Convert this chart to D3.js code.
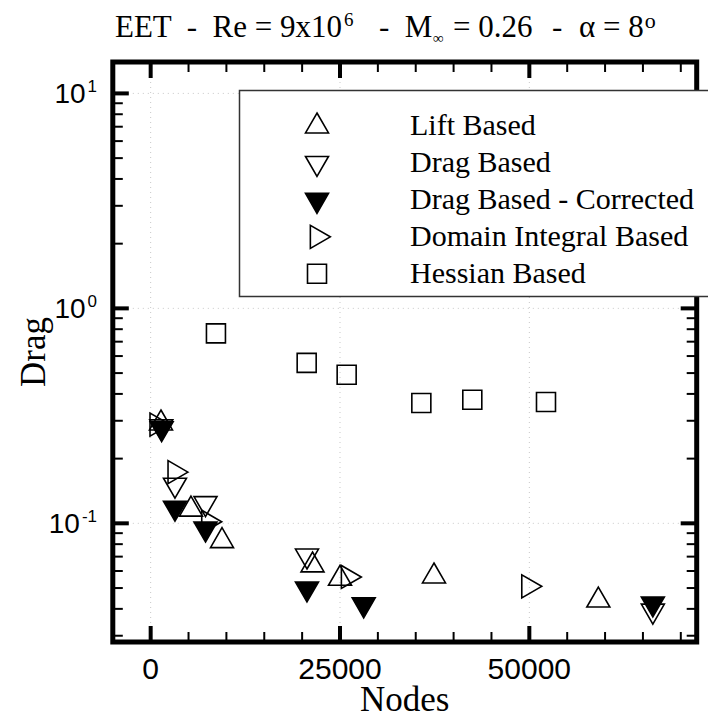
<!DOCTYPE html>
<html>
<head>
<meta charset="utf-8">
<script src="https://cdn.jsdelivr.net/npm/d3@7"></script>
<style>
  html, body { margin: 0; padding: 0; background: #fff; }
  svg { display: block; }
  text { white-space: pre; }
</style>
</head>
<body>
<script>
// Drag coefficient convergence versus mesh size for several adaptation indicators.
const seriesNames = ["Lift Based", "Drag Based", "Drag Based - Corrected", "Domain Integral Based", "Hessian Based"];

const liftNodes = [1360, 5320, 9420, 21370, 25000, 37410, 59110];
const liftDrag  = [0.292, 0.116, 0.0828, 0.0638, 0.0553, 0.0567, 0.0438];

const dragNodes = [1400, 3210, 7240, 20640, 66310];
const dragDrag  = [0.282, 0.151, 0.124, 0.0707, 0.0392];

const corrNodes = [1450, 3210, 7240, 20640, 28130, 66310];
const corrDrag  = [0.2765, 0.118, 0.0944, 0.0497, 0.0419, 0.0423];

const domainNodes = [790, 3170, 7620, 26060, 49880];
const domainDrag  = [0.288, 0.173, 0.1017, 0.0563, 0.0509];

const hessianNodes = [8620, 20600, 25880, 35740, 42470, 52200];
const hessianDrag  = [0.765, 0.558, 0.491, 0.363, 0.376, 0.367];

const xMajorTicks = [0, 25000, 50000];
const xTickLabels = ["0", "25000", "50000"];
const yDecades = [1, 0, -1];

const W = 708, H = 719;
const frame = { left: 112.8, right: 696.7, top: 62, bottom: 642 };
const serif = "'Liberation Serif', 'Times New Roman', serif";
const sans = "'Liberation Sans', Arial, Helvetica, sans-serif";

const x = d3.scaleLinear().domain([-5000, 72100]).range([frame.left, frame.right]);
const y = d3.scaleLog().domain([0.02805, 14.0]).range([frame.bottom, frame.top]);

const svg = d3.select("body").append("svg").attr("width", W).attr("height", H);

// Dotted grid at the major ticks
const grid = svg.append("g").attr("stroke", "#c8c8c8").attr("stroke-width", 1).attr("stroke-dasharray", "1,4");
grid.selectAll("line.gx").data(xMajorTicks).join("line")
  .attr("x1", d => x(d)).attr("x2", d => x(d)).attr("y1", frame.top).attr("y2", frame.bottom);
grid.selectAll("line.gy").data(yDecades).join("line")
  .attr("y1", d => y(Math.pow(10, d))).attr("y2", d => y(Math.pow(10, d))).attr("x1", frame.left).attr("x2", frame.right);

// Ticks on all four sides, pointing inward
const xMinor = d3.range(-5000, 72001, 5000).filter(v => xMajorTicks.indexOf(v) < 0);
const yMinor = [];
[-2, -1, 0, 1].forEach(e => { for (let k = 2; k <= 9; k++) { const v = k * Math.pow(10, e); if (v > y.domain()[0] && v < y.domain()[1]) yMinor.push(v); } });
const yMajor = yDecades.map(e => Math.pow(10, e));

const ticks = svg.append("g").attr("stroke", "#000");
function xTicks(vals, len, w) {
  ticks.append("g").selectAll("line").data(vals).join("line")
    .attr("x1", d => x(d)).attr("x2", d => x(d)).attr("y1", frame.bottom).attr("y2", frame.bottom - len).attr("stroke-width", w);
  ticks.append("g").selectAll("line").data(vals).join("line")
    .attr("x1", d => x(d)).attr("x2", d => x(d)).attr("y1", frame.top).attr("y2", frame.top + len).attr("stroke-width", w);
}
function yTicks(vals, len, w) {
  ticks.append("g").selectAll("line").data(vals).join("line")
    .attr("y1", d => y(d)).attr("y2", d => y(d)).attr("x1", frame.left).attr("x2", frame.left + len).attr("stroke-width", w);
  ticks.append("g").selectAll("line").data(vals).join("line")
    .attr("y1", d => y(d)).attr("y2", d => y(d)).attr("x1", frame.right).attr("x2", frame.right - len).attr("stroke-width", w);
}
xTicks(xMinor, 10, 2);
xTicks(xMajorTicks, 16, 4);
yTicks(yMinor, 10, 2);
yTicks(yMajor, 16, 4);

svg.append("rect")
  .attr("x", frame.left).attr("y", frame.top)
  .attr("width", frame.right - frame.left).attr("height", frame.bottom - frame.top)
  .attr("fill", "none").attr("stroke", "#000").attr("stroke-width", 5);

// Marker shapes, centred on their centroid
const TRI = 23, SQ = 19;
function markerPath(kind) {
  const s = TRI, h = s * Math.sqrt(3) / 2;
  if (kind === "up") return `M0,${-2*h/3}L${s/2},${h/3}L${-s/2},${h/3}Z`;
  if (kind === "down") return `M0,${2*h/3}L${s/2},${-h/3}L${-s/2},${-h/3}Z`;
  if (kind === "right") return `M${2*h/3},0L${-h/3},${s/2}L${-h/3},${-s/2}Z`;
  return `M${-SQ/2},${-SQ/2}h${SQ}v${SQ}h${-SQ}Z`;
}

const series = [
  { name: seriesNames[0], nodes: liftNodes, drag: liftDrag, kind: "up", fill: "none" },
  { name: seriesNames[1], nodes: dragNodes, drag: dragDrag, kind: "down", fill: "none" },
  { name: seriesNames[2], nodes: corrNodes, drag: corrDrag, kind: "down", fill: "#000" },
  { name: seriesNames[3], nodes: domainNodes, drag: domainDrag, kind: "right", fill: "none" },
  { name: seriesNames[4], nodes: hessianNodes, drag: hessianDrag, kind: "square", fill: "none" }
];

const marks = svg.append("g");
series.forEach(s => {
  marks.append("g").selectAll("path")
    .data(s.nodes.map((n, i) => [n, s.drag[i]]))
    .join("path")
    .attr("d", markerPath(s.kind))
    .attr("transform", d => `translate(${x(d[0])},${y(d[1])})`)
    .attr("fill", s.fill)
    .attr("stroke", "#000")
    .attr("stroke-width", 1.6)
    .attr("stroke-linejoin", "miter");
});

// Legend box, drawn over the right edge of the frame
const legend = svg.append("g");
legend.append("rect")
  .attr("x", 239.5).attr("y", 90.5).attr("width", 500).attr("height", 206)
  .attr("fill", "#fff").attr("stroke", "#333").attr("stroke-width", 1.5);
const rowY = d3.scalePoint().domain(seriesNames).range([126.3, 273.7]);
series.forEach(s => {
  legend.append("path")
    .attr("d", markerPath(s.kind))
    .attr("transform", `translate(317,${rowY(s.name)})`)
    .attr("fill", s.fill).attr("stroke", "#000").attr("stroke-width", 1.6);
  legend.append("text")
    .attr("x", 410).attr("y", rowY(s.name) + 9)
    .style("font-family", serif).style("font-size", "30px")
    .text(s.name);
});

// X tick labels
svg.append("g").selectAll("text").data(xMajorTicks).join("text")
  .attr("x", d => x(d)).attr("y", 679)
  .attr("text-anchor", "middle")
  .style("font-family", sans).style("font-size", "30px")
  .text((d, i) => xTickLabels[i]);

// Y tick labels as powers of ten
const yl = svg.append("g").selectAll("text").data(yDecades).join("text")
  .attr("x", 97).attr("y", d => y(Math.pow(10, d)) + 10)
  .attr("text-anchor", "end")
  .style("font-family", sans).style("font-size", "28px");
yl.append("tspan").text("10");
yl.append("tspan").attr("dx", 2).attr("dy", -11).style("font-size", "17px").text(d => String(d));

// Axis titles
svg.append("text")
  .attr("x", (frame.left + frame.right) / 2).attr("y", 711)
  .attr("text-anchor", "middle")
  .style("font-family", serif).style("font-size", "35px")
  .text("Nodes");
svg.append("text")
  .attr("transform", `translate(45,${(frame.top + frame.bottom) / 2}) rotate(-90)`)
  .attr("text-anchor", "middle")
  .style("font-family", serif).style("font-size", "35px")
  .text("Drag");

// Chart title, set piece by piece
const title = svg.append("text")
  .attr("y", 37)
  .style("font-family", serif).style("font-size", "31px");
title.append("tspan").attr("x", 115).text("EET  -  Re = 9x10");
title.append("tspan").attr("dx", 2).attr("dy", -11).style("font-size", "19px").text("6");
title.append("tspan").attr("x", 379).attr("dy", 11).text("-  M");
title.append("tspan").attr("x", 433).attr("dy", 6).style("font-size", "15px").text("∞");
title.append("tspan").attr("x", 453).attr("dy", -6).text("= 0.26");
title.append("tspan").attr("x", 552).text("-");
title.append("tspan").attr("x", 579).text("α = 8");
title.append("tspan").attr("dx", 1).attr("dy", -9).style("font-size", "22px").text("o");
</script>
</body>
</html>
